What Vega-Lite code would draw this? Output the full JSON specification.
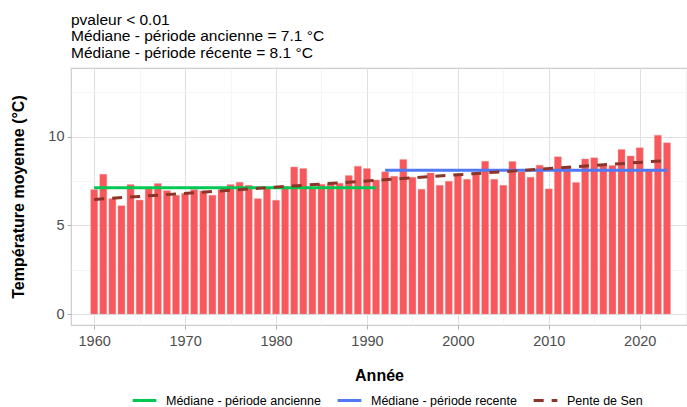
{
  "$schema": "https://vega.github.io/schema/vega-lite/v6.json",
  "autosize": {"type": "none"},
  "padding": {"left": 71, "top": 68, "right": 0, "bottom": 82},
  "width": 616,
  "height": 257,
  "background": "white",
  "config": {
    "font": "Liberation Sans",
    "view": {"stroke": "#CCCCCC", "strokeWidth": 1.2},
    "axis": {"labelFont": "Liberation Sans", "titleFont": "Liberation Sans"}
  },
  "title": {
    "text": ["pvaleur < 0.01", "Médiane - période ancienne = 7.1 °C", "Médiane - période récente = 8.1 °C"],
    "anchor": "start",
    "frame": "group",
    "fontSize": 15.5,
    "fontWeight": "normal",
    "color": "#000000",
    "lineHeight": 16.5,
    "offset": 7,
    "font": "Liberation Sans"
  },
  "datasets": {
    "temp": [
      {"annee": 1960, "temp": 7.02}, {"annee": 1961, "temp": 7.89}, {"annee": 1962, "temp": 6.51},
      {"annee": 1963, "temp": 6.11}, {"annee": 1964, "temp": 7.30}, {"annee": 1965, "temp": 6.43},
      {"annee": 1966, "temp": 7.06}, {"annee": 1967, "temp": 7.36}, {"annee": 1968, "temp": 6.96},
      {"annee": 1969, "temp": 6.70}, {"annee": 1970, "temp": 6.81}, {"annee": 1971, "temp": 7.02},
      {"annee": 1972, "temp": 6.94}, {"annee": 1973, "temp": 6.70}, {"annee": 1974, "temp": 7.02},
      {"annee": 1975, "temp": 7.30}, {"annee": 1976, "temp": 7.43}, {"annee": 1977, "temp": 7.26},
      {"annee": 1978, "temp": 6.51}, {"annee": 1979, "temp": 7.11}, {"annee": 1980, "temp": 6.42},
      {"annee": 1981, "temp": 7.20}, {"annee": 1982, "temp": 8.30}, {"annee": 1983, "temp": 8.21},
      {"annee": 1984, "temp": 7.11}, {"annee": 1985, "temp": 7.32}, {"annee": 1986, "temp": 7.36},
      {"annee": 1987, "temp": 7.38}, {"annee": 1988, "temp": 7.81}, {"annee": 1989, "temp": 8.34},
      {"annee": 1990, "temp": 8.21}, {"annee": 1991, "temp": 7.56}, {"annee": 1992, "temp": 8.02},
      {"annee": 1993, "temp": 7.77}, {"annee": 1994, "temp": 8.72}, {"annee": 1995, "temp": 7.72},
      {"annee": 1996, "temp": 7.04}, {"annee": 1997, "temp": 7.96}, {"annee": 1998, "temp": 7.26},
      {"annee": 1999, "temp": 7.49}, {"annee": 2000, "temp": 7.89}, {"annee": 2001, "temp": 7.60},
      {"annee": 2002, "temp": 7.92}, {"annee": 2003, "temp": 8.62}, {"annee": 2004, "temp": 7.60},
      {"annee": 2005, "temp": 7.26}, {"annee": 2006, "temp": 8.60}, {"annee": 2007, "temp": 8.02},
      {"annee": 2008, "temp": 7.72}, {"annee": 2009, "temp": 8.40}, {"annee": 2010, "temp": 7.06},
      {"annee": 2011, "temp": 8.87}, {"annee": 2012, "temp": 8.26}, {"annee": 2013, "temp": 7.42},
      {"annee": 2014, "temp": 8.75}, {"annee": 2015, "temp": 8.81}, {"annee": 2016, "temp": 8.42},
      {"annee": 2017, "temp": 8.38}, {"annee": 2018, "temp": 9.28}, {"annee": 2019, "temp": 8.92},
      {"annee": 2020, "temp": 9.38}, {"annee": 2021, "temp": 8.11}, {"annee": 2022, "temp": 10.09},
      {"annee": 2023, "temp": 9.66}
    ],
    "lignes": [
      {"serie": "Médiane - période ancienne", "annee": 1960, "valeur": 7.13},
      {"serie": "Médiane - période ancienne", "annee": 1991, "valeur": 7.13},
      {"serie": "Médiane - période recente", "annee": 1992, "valeur": 8.11},
      {"serie": "Médiane - période recente", "annee": 2023, "valeur": 8.11},
      {"serie": "Pente de Sen", "annee": 1960, "valeur": 6.46},
      {"serie": "Pente de Sen", "annee": 2023, "valeur": 8.66}
    ]
  },
  "encoding": {
    "x": {
      "type": "quantitative",
      "scale": {"domain": [1958.0, 2024.65], "nice": false, "zero": false},
      "axis": {
        "title": "Année",
        "titleFontSize": 16,
        "titleFontWeight": "bold",
        "titleColor": "#000000",
        "titlePadding": 20,
        "values": [1960, 1965, 1970, 1975, 1980, 1985, 1990, 1995, 2000, 2005, 2010, 2015, 2020],
        "labelExpr": "datum.value % 10 === 0 ? datum.label : ''",
        "format": "d",
        "labelFontSize": 14.5,
        "labelColor": "#4D4D4D",
        "labelPadding": 5,
        "domain": false,
        "tickSize": 4,
        "tickColor": {"condition": {"test": "datum.value % 10 === 0", "value": "#B3B3B3"}, "value": "transparent"},
        "gridColor": {"condition": {"test": "datum.value % 10 === 0", "value": "#E0E0E0"}, "value": "#F0F0F0"},
        "gridWidth": {"condition": {"test": "datum.value % 10 === 0", "value": 1.1}, "value": 0.7}
      }
    },
    "y": {
      "type": "quantitative",
      "scale": {"domain": [-0.62, 13.88], "nice": false, "zero": false},
      "axis": {
        "title": "Température moyenne (°C)",
        "titleFontSize": 16,
        "titleFontWeight": "bold",
        "titleColor": "#000000",
        "titlePadding": 21,
        "values": [0, 2.5, 5, 7.5, 10, 12.5],
        "labelExpr": "datum.value % 5 === 0 ? datum.label : ''",
        "labelFontSize": 14.5,
        "labelColor": "#4D4D4D",
        "labelPadding": 3,
        "domain": false,
        "tickSize": 4,
        "tickColor": {"condition": {"test": "datum.value % 5 === 0", "value": "#B3B3B3"}, "value": "transparent"},
        "gridColor": {"condition": {"test": "datum.value % 5 === 0", "value": "#E0E0E0"}, "value": "#F0F0F0"},
        "gridWidth": {"condition": {"test": "datum.value % 5 === 0", "value": 1.1}, "value": 0.7}
      }
    }
  },
  "layer": [
    {
      "data": {"name": "temp"},
      "mark": {"type": "bar", "size": 7, "color": "#F8575C", "stroke": "#E0A0A0", "strokeWidth": 0.4},
      "encoding": {
        "x": {"field": "annee"},
        "y": {"field": "temp"}
      }
    },
    {
      "data": {"name": "lignes"},
      "mark": {"type": "line", "strokeWidth": 3},
      "encoding": {
        "x": {"field": "annee"},
        "y": {"field": "valeur"},
        "detail": {"field": "serie"},
        "color": {
          "field": "serie",
          "type": "nominal",
          "scale": {
            "domain": ["Médiane - période ancienne", "Médiane - période recente", "Pente de Sen"],
            "range": ["#00C853", "#4F79F5", "#8B3427"]
          },
          "legend": {
            "title": null,
            "orient": "none",
            "legendX": 60,
            "legendY": 319,
            "direction": "horizontal",
            "symbolType": "stroke",
            "symbolSize": 560,
            "symbolStrokeWidth": 3,
            "labelFontSize": 12.5,
            "labelColor": "#000000",
            "labelFont": "Liberation Sans",
            "labelOffset": 8,
            "columnPadding": 10
          }
        },
        "strokeDash": {
          "field": "serie",
          "type": "nominal",
          "scale": {
            "domain": ["Médiane - période ancienne", "Médiane - période recente", "Pente de Sen"],
            "range": [[1, 0], [1, 0], [10, 8]]
          },
          "legend": null
        }
      }
    }
  ]
}
